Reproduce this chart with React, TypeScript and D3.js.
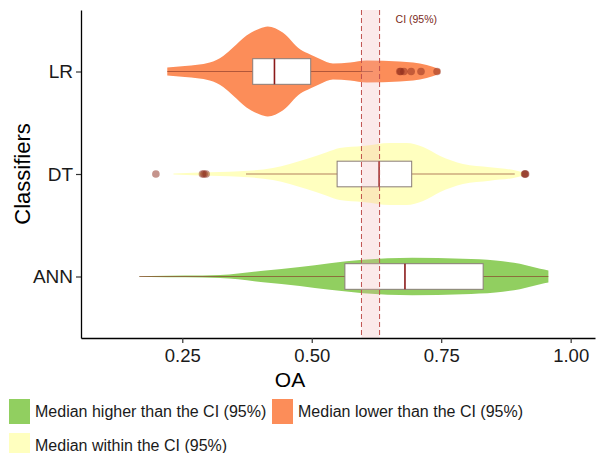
import React, { useRef, useEffect } from 'react';
import * as d3 from 'd3';

// Classifiers, top to bottom
const classifiers = ['LR', 'DT', 'ANN'];

// Where the median falls relative to the CI
const medianGroup = ['lower', 'within', 'higher'];

// Box statistics (OA), same order as classifiers
const lowerWhisker = [0.221, 0.373, 0.167];
const q1 = [0.386, 0.549, 0.564];
const median = [0.428, 0.630, 0.680];
const q3 = [0.498, 0.693, 0.831];
const upperWhisker = [0.618, 0.892, 0.957];

const outliers = [
  [0.670, 0.672, 0.678, 0.692, 0.711, 0.742],
  [0.199, 0.289, 0.292, 0.296, 0.911, 0.912, 0.913],
  [],
];

// Violin density: [OA, density]
const lrDensity = [
  [0.221, 0.4], [0.255, 0.55], [0.303, 0.9], [0.329, 1.55], [0.348, 2.4],
  [0.374, 3.6], [0.4, 4.3], [0.415, 4.5], [0.444, 3.9], [0.478, 2.2],
  [0.497, 1.7], [0.516, 1.25], [0.541, 0.8], [0.574, 0.9], [0.606, 1.1],
  [0.67, 1.0], [0.722, 0.65], [0.748, 0.2],
];
const dtDensity = [
  [0.233, 0.05], [0.284, 0.15], [0.361, 0.27], [0.425, 0.6], [0.49, 1.5],
  [0.529, 2.17], [0.554, 2.6], [0.599, 2.8], [0.651, 3.1], [0.683, 3.1],
  [0.715, 2.7], [0.748, 1.8], [0.792, 1.0], [0.844, 0.67], [0.896, 0.33],
  [0.915, 0.05],
];
const annDensity = [
  [0.167, 0.03], [0.188, 0.05], [0.323, 0.15], [0.406, 0.57], [0.477, 0.95],
  [0.535, 1.33], [0.599, 1.67], [0.694, 1.87], [0.792, 1.77], [0.855, 1.6],
  [0.902, 1.27], [0.941, 0.77], [0.957, 0.6],
];
const densities = [lrDensity, dtDensity, annDensity];

const ciRange = [0.596, 0.631];
const xTicks = [0.25, 0.5, 0.75, 1.0];

const legendItems = [
  { key: 'higher', label: 'Median higher than the CI (95%)' },
  { key: 'lower', label: 'Median lower than the CI (95%)' },
  { key: 'within', label: 'Median within the CI (95%)' },
];

const groupColors = {
  lower: '#fc8d59',
  within: '#ffffbf',
  higher: '#91cf60',
};

const FONT = '"Liberation Sans", Arial, Helvetica, sans-serif';

const App = () => {
  const ref = useRef(null);
  const width = 605;
  const height = 453;

  useEffect(() => {
    const svg = d3.select(ref.current);
    svg.selectAll('*').remove();

    const margin = { top: 10, right: 10, bottom: 115, left: 81 };
    const innerRight = width - margin.right;
    const innerBottom = height - margin.bottom;

    const x = d3.scaleLinear().domain([0.0544, 1.047]).range([margin.left, innerRight]);
    const y = d3.scalePoint().domain(classifiers).range([margin.top, innerBottom]).padding(0.6);
    const step = y.step();
    const widthScale = d3.scaleLinear().domain([0, 4.5]).range([0, 45]);
    const boxHalf = step * 0.125;

    // Violins
    classifiers.forEach((c, i) => {
      const cy = y(c);
      const area = d3.area()
        .x(d => x(d[0]))
        .y0(d => cy + widthScale(d[1]))
        .y1(d => cy - widthScale(d[1]))
        .curve(d3.curveMonotoneX);
      svg.append('path')
        .datum(densities[i])
        .attr('d', area)
        .attr('fill', groupColors[medianGroup[i]])
        .attr('stroke', 'none');
    });

    // Boxplots
    classifiers.forEach((c, i) => {
      const cy = y(c);
      svg.append('line')
        .attr('x1', x(lowerWhisker[i]))
        .attr('x2', x(upperWhisker[i]))
        .attr('y1', cy)
        .attr('y2', cy)
        .attr('stroke', '#8b3a2a')
        .attr('stroke-opacity', 0.65)
        .attr('stroke-width', 1.2);
      svg.append('rect')
        .attr('x', x(q1[i]))
        .attr('y', cy - boxHalf)
        .attr('width', x(q3[i]) - x(q1[i]))
        .attr('height', boxHalf * 2)
        .attr('fill', '#fff')
        .attr('stroke', '#8a7c78')
        .attr('stroke-width', 1);
      svg.append('line')
        .attr('x1', x(median[i]))
        .attr('x2', x(median[i]))
        .attr('y1', cy - boxHalf)
        .attr('y2', cy + boxHalf)
        .attr('stroke', '#8b1a1a')
        .attr('stroke-width', 1.6);
      svg.selectAll(null)
        .data(outliers[i])
        .enter()
        .append('circle')
        .attr('cx', d => x(d))
        .attr('cy', cy)
        .attr('r', 3.8)
        .attr('fill', '#8b2a1a')
        .attr('fill-opacity', 0.5);
    });

    // CI band
    svg.append('rect')
      .attr('x', x(ciRange[0]))
      .attr('y', margin.top)
      .attr('width', x(ciRange[1]) - x(ciRange[0]))
      .attr('height', innerBottom - margin.top)
      .attr('fill', '#f0aaaa')
      .attr('fill-opacity', 0.25);
    ciRange.forEach(v => {
      svg.append('line')
        .attr('x1', x(v))
        .attr('x2', x(v))
        .attr('y1', margin.top)
        .attr('y2', innerBottom)
        .attr('stroke', '#c0504d')
        .attr('stroke-width', 1)
        .attr('stroke-dasharray', '5,3');
    });
    svg.append('text')
      .attr('x', x(ciRange[1]) + 16)
      .attr('y', 23)
      .attr('font-family', FONT)
      .attr('font-size', 10.5)
      .attr('fill', '#7a2a1a')
      .text('CI (95%)');

    // Axes
    const xAxis = svg.append('g')
      .attr('transform', `translate(0,${innerBottom})`)
      .call(d3.axisBottom(x).tickValues(xTicks).tickSize(5).tickSizeOuter(0).tickPadding(6).tickFormat(d3.format('.2f')));
    xAxis.select('.domain').attr('stroke', '#000').attr('stroke-width', 1.3);
    xAxis.selectAll('line').attr('stroke', '#333').attr('stroke-width', 1.2);
    xAxis.selectAll('text')
      .attr('font-family', FONT)
      .attr('font-size', 18.5)
      .attr('fill', '#1a1a1a');

    const yAxis = svg.append('g')
      .attr('transform', `translate(${margin.left},0)`)
      .call(d3.axisLeft(y).tickSize(5).tickSizeOuter(0).tickPadding(3));
    yAxis.select('.domain').attr('stroke', '#000').attr('stroke-width', 1.3);
    yAxis.selectAll('line').attr('stroke', '#333').attr('stroke-width', 1.2);
    yAxis.selectAll('text')
      .attr('font-family', FONT)
      .attr('font-size', 19)
      .attr('fill', '#1a1a1a');

    // Axis titles
    svg.append('text')
      .attr('x', 290)
      .attr('y', 387)
      .attr('text-anchor', 'middle')
      .attr('font-family', FONT)
      .attr('font-size', 21)
      .attr('fill', '#000')
      .text('OA');

    svg.append('text')
      .attr('transform', 'rotate(-90)')
      .attr('x', -(margin.top + innerBottom) / 2)
      .attr('y', 30)
      .attr('text-anchor', 'middle')
      .attr('font-family', FONT)
      .attr('font-size', 22)
      .attr('fill', '#000')
      .text('Classifiers');

    // Legend
    const legendPos = [[9, 399], [272, 399], [9, 433]];
    legendItems.forEach((item, i) => {
      const g = svg.append('g').attr('transform', `translate(${legendPos[i][0]},${legendPos[i][1]})`);
      g.append('rect')
        .attr('width', 21)
        .attr('height', 25)
        .attr('fill', groupColors[item.key]);
      g.append('text')
        .attr('x', 26)
        .attr('y', 18)
        .attr('font-family', FONT)
        .attr('font-size', 16)
        .attr('fill', '#1a1a1a')
        .text(item.label);
    });
  }, []);

  return (
    <svg
      ref={ref}
      width={width}
      height={height}
      style={{ position: 'absolute', left: 0, top: 0, background: '#fff' }}
    />
  );
};

export default App;
